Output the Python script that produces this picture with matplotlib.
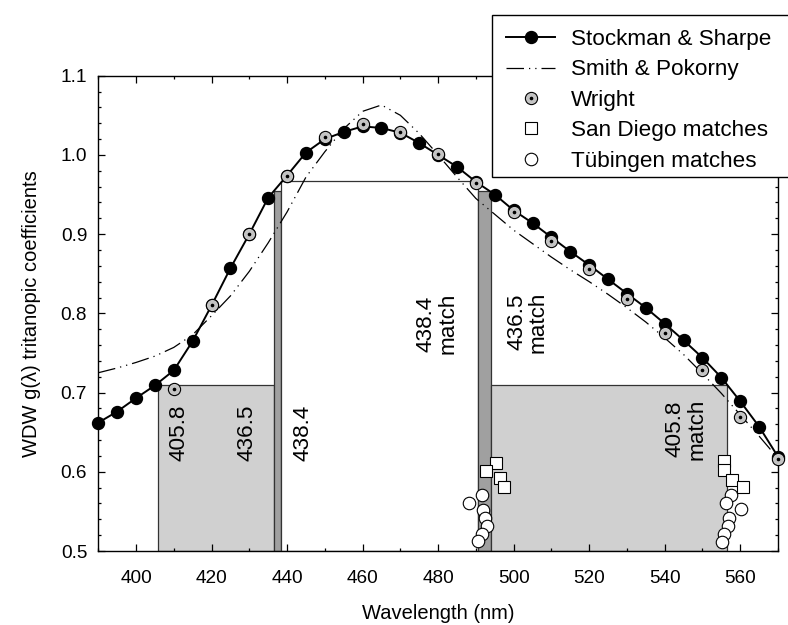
import numpy as np
import matplotlib
matplotlib.use("Agg")
from matplotlib import pyplot as plt
from matplotlib.patches import Rectangle
from matplotlib.lines import Line2D

# Stockman & Sharpe (5 nm steps)
ss_wl = np.arange(390, 571, 5)
ss_val = [0.662, 0.676, 0.693, 0.709, 0.728, 0.765, 0.810, 0.857, 0.900, 0.946,
          0.974, 1.003, 1.020, 1.029, 1.036, 1.034, 1.028, 1.015, 1.000, 0.985,
          0.966, 0.950, 0.930, 0.914, 0.896, 0.878, 0.861, 0.843, 0.825, 0.807,
          0.787, 0.766, 0.744, 0.719, 0.689, 0.657, 0.619]

# Smith & Pokorny
sp_wl = np.arange(390, 571, 5)
sp_val = [0.725, 0.731, 0.738, 0.746, 0.757, 0.773, 0.797, 0.822, 0.853, 0.889,
          0.928, 0.972, 1.004, 1.033, 1.055, 1.063, 1.050, 1.027, 1.000, 0.972,
          0.945, 0.925, 0.905, 0.888, 0.871, 0.855, 0.840, 0.824, 0.807, 0.789,
          0.769, 0.748, 0.724, 0.699, 0.672, 0.645, 0.617]

# Wright (10 nm steps)
wr_wl = np.arange(410, 571, 10)
wr_val = [0.705, 0.810, 0.900, 0.974, 1.022, 1.039, 1.029, 1.001, 0.965, 0.928,
          0.891, 0.856, 0.818, 0.775, 0.728, 0.669, 0.616]

# San Diego matches
sd_wl = [495.4, 492.6, 496.5, 497.4, 555.8, 555.8, 557.7, 560.8]
sd_val = [0.611, 0.601, 0.592, 0.581, 0.613, 0.602, 0.590, 0.581]

# Tuebingen matches
tu_wl = [488.1, 491.6, 491.9, 492.3, 492.9, 491.6, 490.5,
         557.6, 556.1, 560.2, 557.1, 556.7, 555.8, 555.1]
tu_val = [0.561, 0.571, 0.552, 0.542, 0.531, 0.521, 0.512,
          0.571, 0.561, 0.553, 0.542, 0.531, 0.522, 0.511]

# primaries and their tritanopic matches: (start, end, height, colour)
boxes = [(405.8, 436.5, 0.710, '#d0d0d0'),
         (436.5, 438.4, 0.955, '#a0a0a0'),
         (438.4, 490.5, 0.967, 'white'),
         (490.5, 494.0, 0.955, '#a0a0a0'),
         (494.0, 556.5, 0.710, '#d0d0d0')]

labels = [("405.8", 411.3, 0.649), ("436.5", 429.3, 0.649), ("438.4", 444.2, 0.649),
          ("438.4\nmatch", 479.7, 0.787), ("436.5\nmatch", 503.7, 0.789),
          ("405.8\nmatch", 545.7, 0.654)]

plt.rcParams["font.family"] = ["Liberation Sans", "DejaVu Sans"]

fig = plt.figure(figsize=(7.88, 6.25), dpi=100)
ax = fig.add_axes([0.1247, 0.1184, 0.8626, 0.7605])

for x0, x1, h, c in boxes:
    ax.add_patch(Rectangle((x0, 0.5), x1 - x0, h - 0.5, facecolor=c,
                           edgecolor='#333333', lw=0.9, zorder=1))

for txt, x, y in labels:
    ax.text(x, y, txt, rotation=90, ha='center', va='center', fontsize=16.2,
            linespacing=1.05, multialignment='center', zorder=2)

ax.plot(sp_wl, sp_val, color='black', lw=0.9, dashes=(14, 4, 1, 4, 1, 4), zorder=3)
ax.plot(ss_wl, ss_val, color='black', lw=1.4, marker='o', ms=8.6,
        markerfacecolor='black', markeredgecolor='black', zorder=4, clip_on=False)
ax.plot(wr_wl, wr_val, ls='none', marker='o', ms=8.8, markerfacecolor='#c4c4c4',
        markeredgecolor='black', markeredgewidth=0.8, zorder=5, clip_on=False)
ax.plot(wr_wl, wr_val, ls='none', marker='o', ms=1.6, color='black', zorder=6,
        clip_on=False)
ax.plot(sd_wl, sd_val, ls='none', marker='s', ms=8.2, markerfacecolor='white',
        markeredgecolor='black', markeredgewidth=0.8, zorder=5)
ax.plot(tu_wl, tu_val, ls='none', marker='o', ms=9.0, markerfacecolor='white',
        markeredgecolor='black', markeredgewidth=0.8, zorder=6)

ax.set_xlim(390, 570)
ax.set_ylim(0.5, 1.1)
ax.set_xticks(np.arange(400, 561, 20))
ax.set_xticks(np.arange(390, 571, 10), minor=True)
ax.set_yticks(np.arange(0.5, 1.101, 0.1))
ax.set_yticks(np.arange(0.5, 1.101, 0.02), minor=True)
ax.set_yticklabels(["0.5", "0.6", "0.7", "0.8", "0.9", "1.0", "1.1"])
ax.tick_params(which='both', direction='in', top=True, right=True, labelsize=13.7,
               width=0.9)
ax.tick_params(which='major', length=5)
ax.tick_params(which='minor', length=2.5)
ax.tick_params(axis='x', which='major', pad=14)
ax.tick_params(axis='y', which='major', pad=8)
for s in ax.spines.values():
    s.set_linewidth(1.0)

ax.set_xlabel("Wavelength (nm)", fontsize=14.5, labelpad=12)
ax.set_ylabel("WDW g(\u03bb) tritanopic coefficients", fontsize=14.5, labelpad=14)

h_ss = Line2D([], [], color='black', lw=1.4, marker='o', ms=8.6)
h_sp = Line2D([], [], color='black', lw=0.9, dashes=(14, 4, 1, 4, 1, 4))
h_wr1 = Line2D([], [], ls='none', marker='o', ms=8.8, markerfacecolor='#c4c4c4',
               markeredgecolor='black', markeredgewidth=0.8)
h_wr2 = Line2D([], [], ls='none', marker='o', ms=1.6, color='black')
h_sd = Line2D([], [], ls='none', marker='s', ms=8.2, markerfacecolor='white',
              markeredgecolor='black', markeredgewidth=0.8)
h_tu = Line2D([], [], ls='none', marker='o', ms=9.0, markerfacecolor='white',
              markeredgecolor='black', markeredgewidth=0.8)
leg = ax.legend([h_ss, h_sp, (h_wr1, h_wr2), h_sd, h_tu],
                ["Stockman & Sharpe", "Smith & Pokorny", "Wright",
                 "San Diego matches", "T\u00fcbingen matches"],
                loc='upper left', bbox_to_anchor=(0.6244, 0.976),
                bbox_transform=fig.transFigure, borderaxespad=0, fontsize=16.2,
                frameon=False, handlelength=2.2, handletextpad=0.7,
                labelspacing=0.42, borderpad=0.62, numpoints=1)
leg.set_zorder(10)

# legend box runs off the right edge of the figure, as in the original
ax.add_patch(Rectangle((0.6244, 0.7168), 0.40, 0.2592, transform=fig.transFigure,
                       facecolor='white', edgecolor='black', lw=1.0,
                       clip_on=False, zorder=9))

fig.savefig("out.png", dpi=100)
